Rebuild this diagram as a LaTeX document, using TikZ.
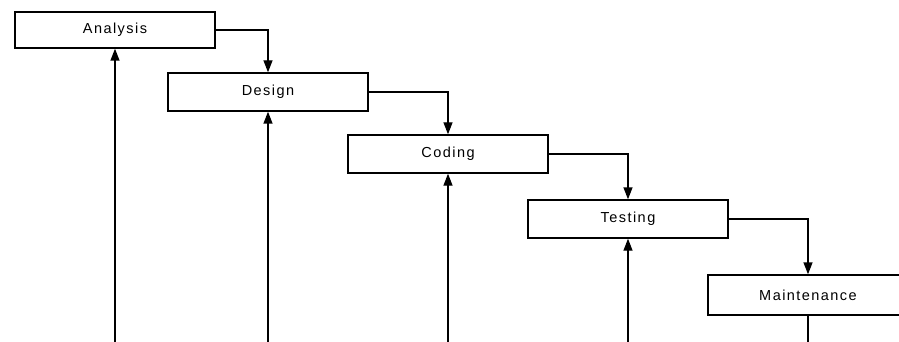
\documentclass[tikz,border=0pt]{standalone}
\usepackage{fontspec}
\newfontfamily\lblfont[LetterSpace=10]{Liberation Sans}
\usetikzlibrary{arrows.meta}
\begin{document}
\begin{tikzpicture}[x=1pt,y=-1pt,
  phase/.style={draw=black,line width=1.4pt,fill=white,minimum width=200pt,inner sep=0pt,font=\lblfont\fontsize{14.5}{16}\selectfont},
  flow/.style={draw=black,line width=1.4pt,-{Triangle[length=12pt,width=9pt]}},
  plain/.style={draw=black,line width=1.4pt}]
\useasboundingbox (0,0) rectangle (899,342);
\clip (0,0) rectangle (899,342);
\node[phase,minimum height=36pt] (a) at (115,30) {Analysis};
\node[phase,minimum height=38pt] (d) at (268,92) {Design};
\node[phase,minimum height=38pt] (c) at (448,154) {Coding};
\node[phase,minimum height=38pt] (t) at (628,219) {Testing};
\node[phase,minimum height=40pt] (m) at (808,295) {Maintenance};
\coordinate (a0) at (115,345);
\coordinate (d0) at (268,345);
\coordinate (c0) at (448,345);
\coordinate (t0) at (628,345);
\coordinate (m0) at (808,345);
\draw[flow] (a.east) -| (d.north);
\draw[flow] (d.east) -| (c.north);
\draw[flow] (c.east) -| (t.north);
\draw[flow] (t.east) -| (m.north);
\draw[flow] (a0) -- (a.south);
\draw[flow] (d0) -- (d.south);
\draw[flow] (c0) -- (c.south);
\draw[flow] (t0) -- (t.south);
\draw[plain] (m.south) -- (m0);
\end{tikzpicture}
\end{document}
